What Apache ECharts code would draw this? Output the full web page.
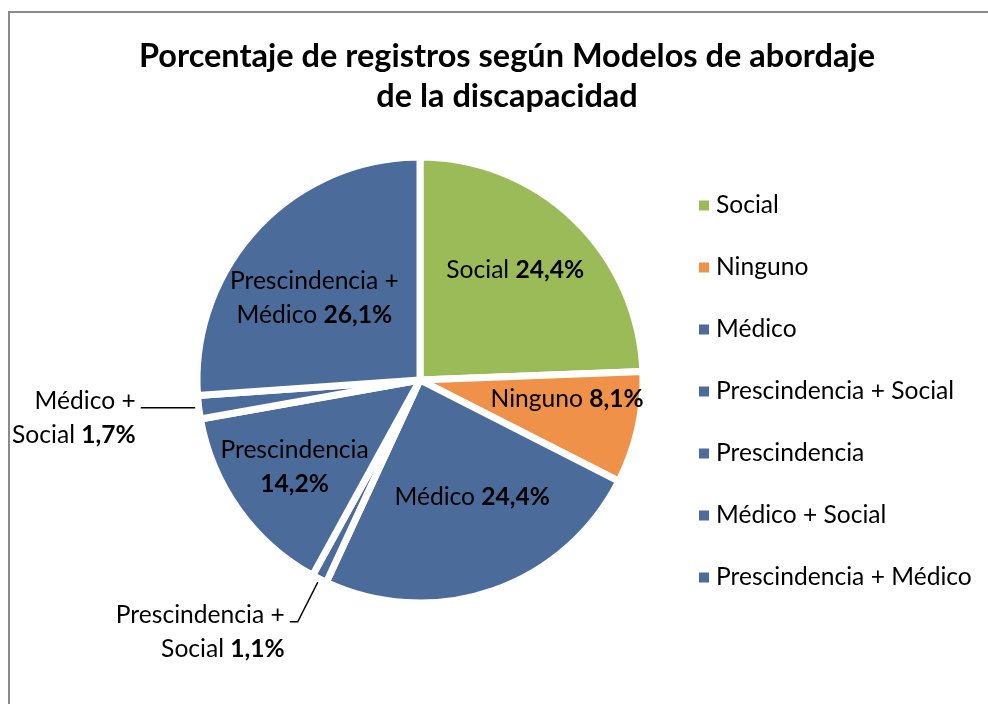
<!DOCTYPE html>
<html>
<head>
<meta charset="utf-8">
<script src="https://cdn.jsdelivr.net/npm/echarts@6/dist/echarts.min.js"></script>
<style>
  html, body { margin: 0; background: #fff; }
  #chart { width: 988px; height: 704px; }
</style>
</head>
<body>
<div id="chart"></div>
<script>
// datos
const categories = ["Social", "Ninguno", "Médico", "Prescindencia + Social", "Prescindencia", "Médico + Social", "Prescindencia + Médico"];
const values = [24.4, 8.1, 24.4, 1.1, 14.2, 1.7, 26.1];
// texto de las etiquetas (con saltos de línea como en el original)
const labelNames = ["Social", "Ninguno", "Médico", "Prescindencia +\nSocial", "Prescindencia\n", "Médico +\nSocial", "Prescindencia +\nMédico"];

const sliceColors = ["#9BBB59", "#F0914A", "#4B6B9B", "#4B6B9B", "#4B6B9B", "#4B6B9B", "#4B6B9B"];
// etiquetas con línea guía: [length, length2]
const leaders = { "Médico + Social": [4, 54], "Prescindencia + Social": [48, 8] };
// pequeños ajustes de posición de las etiquetas interiores
const nudges = { "Social": [-5, -6], "Ninguno": [6, -12], "Médico": [5, -19], "Prescindencia": [-8, 3], "Prescindencia + Médico": [0, 17] };

const FONT = "Lato";
const FS = 24.6;
const LH = 34;
const fmt = (v) => v.toFixed(1).replace(".", ",") + "%";
const labelText = (i) => {
  const n = labelNames[i];
  return n + (n.endsWith("\n") ? "" : " ") + "{b|" + fmt(values[i]) + "}";
};
const rich = {
  b: { fontFamily: FONT, fontSize: FS, fontWeight: "bold", color: "#000", lineHeight: LH },
};

const chart = echarts.init(document.getElementById("chart"));

const mainData = values.map((v, i) => {
  const name = categories[i];
  const item = { name, value: v, itemStyle: { color: sliceColors[i] } };
  if (leaders[name]) {
    item.label = {
      show: true,
      position: "outside",
      padding: [20, 0, 0, 0],
      formatter: () => labelText(i),
      rich,
    };
    item.labelLine = {
      show: true,
      length: leaders[name][0],
      length2: leaders[name][1],
      lineStyle: { color: "#000", width: 1.5 },
    };
  }
  return item;
});

const innerData = values.map((v, i) => ({
  name: categories[i],
  value: v,
  label: { show: !leaders[categories[i]], offset: nudges[categories[i]] || [0, 0] },
}));

chart.setOption({
  animation: false,
  graphic: [
    {
      type: "rect",
      z: -1,
      shape: { x: 9, y: 12, width: 1100, height: 800 },
      style: { fill: "none", stroke: "#8a8a8a", lineWidth: 2 },
    },
    {
      type: "text",
      x: 507,
      y: 77,
      style: {
        text: "Porcentaje de registros según Modelos de abordaje\nde la discapacidad",
        font: "bold 32.5px " + FONT,
        fill: "#000",
        align: "center",
        verticalAlign: "middle",
        lineHeight: 40,
      },
    },
  ],
  legend: {
    orient: "vertical",
    left: 697,
    top: 193,
    padding: 0,
    icon: "rect",
    itemWidth: 12,
    itemHeight: 12,
    itemGap: 37,
    selectedMode: false,
    data: categories,
    textStyle: { fontFamily: FONT, fontSize: FS, lineHeight: FS, color: "#000", padding: [0, 0, 0, 1] },
  },
  series: [
    {
      type: "pie",
      center: [420, 380],
      radius: 223,
      startAngle: 90,
      clockwise: true,
      avoidLabelOverlap: false,
      silent: true,
      emphasis: { disabled: true },
      itemStyle: { borderColor: "#fff", borderWidth: 7 },
      label: {
        show: false,
        color: "#000",
        fontFamily: FONT,
        fontSize: FS,
        lineHeight: LH,
      },
      labelLine: { show: false },
      data: mainData,
    },
    {
      // serie transparente solo para colocar las etiquetas interiores
      type: "pie",
      center: [420, 380],
      radius: [60, 223],
      startAngle: 90,
      clockwise: true,
      silent: true,
      emphasis: { disabled: true },
      itemStyle: { color: "rgba(0,0,0,0)", borderWidth: 0 },
      label: {
        show: true,
        position: "inside",
        color: "#000",
        fontFamily: FONT,
        fontSize: FS,
        lineHeight: LH,
        formatter: (p) => labelText(p.dataIndex),
        rich,
      },
      labelLine: { show: false },
      data: innerData,
    },
  ],
});
</script>
</body>
</html>
